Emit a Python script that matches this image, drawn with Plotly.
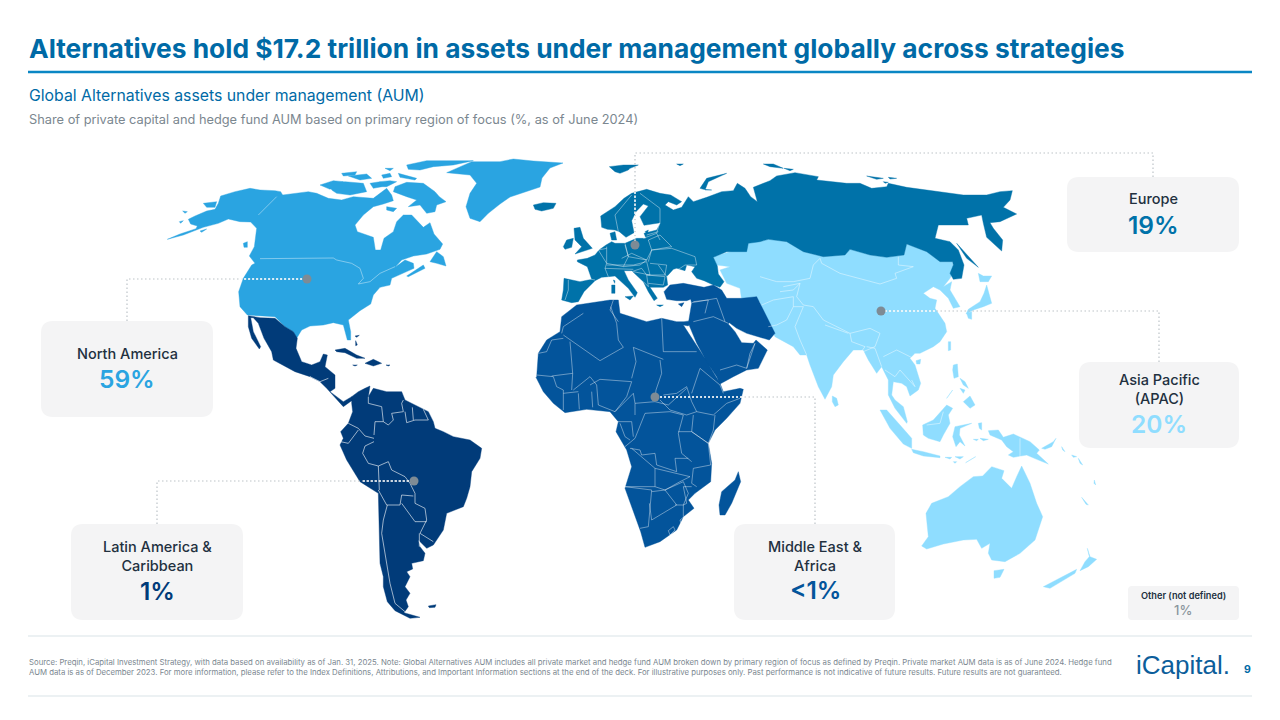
import plotly.graph_objects as go

# ---- callout data ----
REGION_NAMES = ["North America", "Latin America &<br>Caribbean", "Middle East &<br>Africa", "Asia Pacific<br>(APAC)", "Europe"]
SHARE_LABELS = ["59%", "1%", "<1%", "20%", "19%"]
REGION_COLORS = ["#2AA4E1", "#013B79", "#03549B", "#8FDDFF", "#0072A9"]
OTHER_NAME, OTHER_SHARE = "Other (not defined)", "1%"

TITLE = "Alternatives hold $17.2 trillion in assets under management globally across strategies"
SUBTITLE = "Global Alternatives assets under management (AUM)"
SUBTITLE2 = "Share of private capital and hedge fund AUM based on primary region of focus (%, as of June 2024)"
FOOT1 = "Source: Preqin, iCapital Investment Strategy, with data based on availability as of Jan. 31, 2025. Note: Global Alternatives AUM includes all private market and hedge fund AUM broken down by primary region of focus as defined by Preqin. Private market AUM data is as of June 2024. Hedge fund"
FOOT2 = "AUM data is as of December 2023. For more information, please refer to the Index Definitions, Attributions, and Important Information sections at the end of the deck. For illustrative purposes only. Past performance is not indicative of future results. Future results are not guaranteed."

# ---- map outlines, in 1/3 px units relative to a sheet origin ----
O1, O2, O3, O4, O5, O6 = (160, 150), (500, 150), (760, 150), (300, 370), (520, 290), (800, 340)

NA_LAND = [
 [(22,268),(60,252),(108,236),(112,228),(92,222),(85,208),(105,198),(140,183),(165,178),(175,160),(182,138),(225,125),(270,115),(300,120),(345,122),(362,125),(368,135),(405,130),(445,125),(470,130),(505,145),(545,150),(580,140),(640,145),(665,125),(680,115),(695,135),(700,152),(670,162),(640,170),(610,195),(585,225),(592,245),(640,262),(646,300),(662,300),(672,265),(700,245),(710,215),(730,195),(755,195),(775,215),(790,232),(810,218),(822,252),(848,282),(840,298),(800,312),(760,318),(725,330),(705,352),(735,330),(760,340),(762,355),(740,365),(715,375),(695,385),(690,405),(660,412),(640,435),(632,462),(600,482),(565,510),(572,545),(572,570),(562,570),(550,525),(520,518),(490,525),(450,528),(425,540),(410,565),(400,545),(375,530),(345,500),(262,495),(240,470),(236,425),(250,385),(275,345),(285,340),(268,318),(283,290),(290,235),(272,216),(240,215),(205,207),(175,220),(130,232),(70,255)],
 [(705,110),(740,97),(790,100),(825,125),(838,140),(858,155),(830,165),(825,185),(800,190),(780,165),(745,170),(770,150),(740,140),(700,125)],
 [(510,100),(555,95),(610,100),(620,125),(570,135),(530,130),(515,120)],
 [(480,105),(520,92),(550,95),(510,118)],
 [(680,170),(710,175),(700,185),(680,180)],
 [(740,45),(800,32),(860,32),(940,32),(880,45),(820,50),(780,60),(745,58)],
 [(660,95),(690,92),(710,95),(680,110),(650,110)],
 [(630,100),(660,95),(665,110),(640,115)],
 [(545,70),(590,65),(585,75),(550,78)],
 [(565,78),(620,72),(635,85),(600,90)],
 [(665,75),(690,70),(695,80),(670,85)],
 [(715,70),(770,85),(765,90),(720,82)],
 [(675,55),(700,55),(690,62)],
 [(810,335),(830,305),(850,320),(858,348),(830,340)],
 [(250,280),(262,275),(262,292),(252,292)],
 [(130,160),(170,155),(165,172),(140,172)],
 [(68,183),(82,185),(75,190)],
 [(58,215),(70,212),(62,220)],
 [(120,243),(140,237),(125,247)],
 [(740,378),(790,345),(795,355),(745,380)],
 [(860,68),(935,35),(1020,35),(1060,27),(1120,33),(1209,39),(1170,54),(1146,84),(1140,111),(1095,126),(1050,141),(1020,162),(985,190),(960,215),(930,205),(918,170),(930,130),(950,100),(930,75)],
]
NA_BORDERS = [
 [(300,326),(520,324),(530,330),(575,340),(600,355),(610,385),(595,402),(630,395),(660,370),(705,350)],
 [(295,195),(350,140)],
]

LATAM_LAND_O1 = [
 [(265,497),(300,503),(345,505),(362,520),(375,530),(400,545),(412,565),(408,595),(425,635),(455,645),(480,635),(490,612),(502,615),(495,650),(525,675),(525,715),(510,725),(550,755),(575,740),(575,752),(550,770),(500,715),(480,695),(450,680),(405,665),(340,630),(335,605),(312,565),(295,520),(280,503),(272,503),(280,545),(302,590),(298,597),(275,565),(265,530)],
 [(525,600),(555,595),(590,615),(615,625),(590,625),(555,608),(530,605)],
 [(615,640),(640,628),(665,640),(640,648)],
 [(578,645),(592,645),(585,648)],
 [(678,645),(690,645),(685,648)],
 [(585,558),(598,556),(590,562)],
 [(587,572),(592,585),(587,587)],
]
LATAM_LAND_O4 = [
 [(155,80),(175,65),(195,55),(210,48),(205,80),(220,55),(260,65),(305,65),(315,90),(345,105),(385,125),(400,155),(405,175),(430,185),(460,200),(510,210),(545,235),(540,265),(515,305),(510,350),(500,385),(490,410),(440,430),(430,480),(400,525),(380,535),(355,510),(360,530),(375,550),(370,572),(335,580),(338,597),(320,605),(330,620),(315,650),(330,670),(318,690),(325,710),(312,728),(360,742),(330,745),(285,722),(262,695),(250,650),(250,620),(240,580),(238,510),(238,440),(235,370),(180,335),(140,270),(120,225),(130,205),(122,185),(145,160),(158,125),(155,100)],
 [(385,708),(408,704),(405,712),(388,713)],
]
LATAM_BORDERS = [
 [(205,80),(205,100),(245,110),(250,155),(265,165),(280,150),(275,130),(310,125),(305,100),(310,90)],
 [(315,125),(320,158),(345,150),(385,150),(370,118)],
 [(337,112),(340,150)],
 [(250,155),(225,155),(222,195)],
 [(145,160),(175,175),(195,198),(222,205)],
 [(122,215),(145,220),(175,180)],
 [(222,215),(195,228),(188,250),(205,280),(235,288),(265,275),(275,300),(315,320),(330,340),(345,370),(345,400),(375,415),(380,450),(360,490),(400,515)],
 [(235,288),(238,360)],
 [(235,360),(260,405)],
 [(260,405),(300,405),(305,375),(340,378)],
 [(305,400),(345,455),(380,455)],
 [(262,405),(250,450),(245,490),(260,580),(270,640),(285,700),(315,725)],
 [(358,490),(358,530)],
 [(10,40),(30,20),(60,35)],
 [(60,35),(85,25)],
]

MEA_LAND = [
 [(50,260),(55,190),(80,150),(120,125),(125,80),(170,45),(270,30),(295,30),(300,70),(380,95),(425,85),(470,95),(492,95),(512,92),(505,108),(490,105),(545,190),(600,280),(610,305),(660,295),(670,298),(660,340),(620,385),(585,420),(565,460),(575,520),(572,575),(525,610),(505,630),(522,655),(490,680),(470,720),(420,755),(375,772),(362,725),(345,680),(315,595),(335,530),(320,480),(288,425),(295,395),(270,365),(200,358),(135,368),(100,340),(70,305),(48,262)],
 [(432,5),(450,-15),(490,-20),(552,-8),(580,-15),(605,0),(620,25),(665,25),(710,20),(725,50),(740,85),(765,130),(748,150),(715,140),(680,130),(650,115),(628,98),(625,102),(645,125),(665,158),(700,160),(708,150),(742,180),(715,235),(680,240),(640,260),(600,282),(590,260),(560,215),(530,160),(510,115),(505,100),(515,40),(512,28),(500,32),(470,32),(440,28)],
 [(655,545),(662,575),(635,640),(615,675),(600,675),(597,645),(605,605),(645,570)],
 [(475,42),(492,38),(485,50)],
]
MEA_BORDERS = [
 [(190,70),(130,110),(125,130)],[(130,135),(240,212)],[(272,50),(290,100),(295,150),(310,172)],
 [(240,212),(310,172)],[(280,30),(270,60),(295,95)],[(425,85),(430,185)],[(340,172),(430,208)],
 [(430,185),(530,185)],[(420,210),(425,250),(408,300),(405,325)],[(340,172),(348,215),(335,265)],
 [(210,285),(240,268),(335,275)],[(150,155),(158,250),(95,258)],[(158,250),(155,300)],
 [(55,190),(80,185),(95,150),(130,145)],[(230,285),(235,345),(285,365)],[(335,275),(320,320),(285,365)],
 [(175,310),(178,358)],[(215,305),(218,352)],[(160,300),(210,260),(230,285)],
 [(50,255),(100,260),(110,290),(130,300),(130,360)],[(130,310),(175,305)],
 [(285,365),(340,310),(345,340),(345,375)],[(345,340),(405,335),(445,345),(500,295)],
 [(430,315),(470,310),(500,290),(515,335),(530,365),(500,375),(450,360),(420,330)],
 [(515,310),(540,235),(600,285),(610,310)],[(660,325),(620,340),(580,375),(530,365)],
 [(585,375),(580,420),(565,460),(515,425)],[(520,375),(515,425)],
 [(375,370),(345,445),(315,470)],[(375,370),(450,365),(490,375),(475,430),(485,490),(515,515)],
 [(330,475),(360,480),(365,495),(405,490),(410,525),(470,545),(465,505),(505,505)],
 [(290,395),(335,395),(340,440)],[(300,400),(315,440),(330,450)],
 [(475,425),(515,425),(565,460),(572,525),(520,535)],[(335,475),(405,535),(405,590),(315,590)],
 [(405,535),(470,550),(510,560),(480,575),(435,600),(405,590)],[(520,535),(515,580),(530,590)],
 [(515,590),(490,590),(500,640),(490,645),(490,680)],[(315,590),(395,600),(385,710),(360,715)],
 [(395,605),(435,600),(470,645),(430,670),(395,690),(388,640)],[(435,600),(490,575),(505,610),(490,645),(465,645)],
 [(445,722),(460,710),(465,720),(450,735),(445,722)],[(480,690),(490,682),(492,695),(482,698),(480,690)],
 [(520,95),(580,80),(625,100)],[(520,35),(565,30),(555,70)],[(590,25),(615,95)],[(515,38),(590,25)],
 [(600,240),(650,225),(680,235),(705,160)],[(680,235),(690,190),(705,160)],
]

EU_WEST = [(232,330),(262,325),(285,315),(297,300),(318,285),(335,275),(345,280),(375,280),(410,265),(438,265),(432,250),(470,240),(482,218),(432,226),(420,200),(445,168),(430,162),(408,185),(395,212),(402,248),(378,262),(358,245),(345,240),(322,238),(305,232),(302,198),(345,170),(372,145),(395,130),(440,118),(480,130),(512,135),(545,155),(530,165),(505,155),(495,165),(520,180),(545,172),(565,140),(580,155),(620,142),(665,125),(700,122),(712,100),(735,115),(752,140),(772,155),(760,112),(810,92)]
EU_EAST = [(50,78),(105,68),(175,80),(170,90),(260,100),(300,100),(335,115),(380,110),(385,100),(440,112),(540,125),(610,135),(680,135),(720,125),(757,122),(750,150),(730,172),(770,192),(720,215),(690,218),(700,235),(728,270),(725,303),(680,262),(670,220),(665,195),(620,205),(625,225),(570,225),(535,225),(525,265),(570,275),(595,300),(612,345),(605,385),(580,388),(570,370),(580,345),(578,335),(540,335),(500,305),(440,282),(432,315),(380,322),(330,315),(270,298),(255,315),(190,320),(130,305),(80,275),(25,268),(0,275)]
EU_SOUTH = [(745,280),(740,305),(680,305),(640,322),(652,348),(655,372),(672,395),(660,412),(640,405),(612,392),(590,385),(575,365),(585,350),(560,345),(555,362),(530,355),(520,358),(500,380),(503,405),(490,412),(450,412),(472,445),(462,452),(445,425),(430,395),(395,362),(372,362),(385,390),(412,428),(405,442),(385,415),(345,378),(325,380),(305,382),(285,392),(252,425),(235,455),(215,458),(185,450),(190,420),(192,385),(240,395),(275,388),(262,350),(232,335)]
EU_ISLANDS_O2 = [
 [(222,235),(240,232),(250,265),(277,295),(225,312),(245,290),(225,270)],
 [(190,290),(200,270),(220,265),(215,292),(195,298)],
 [(100,165),(130,158),(168,160),(160,175),(125,183),(105,178)],
 [(328,50),(370,45),(415,45),(390,55),(385,60),(360,70),(345,65)],
 [(600,115),(620,85),(680,70),(625,95),(615,120),(635,120),(610,118)],
 [(790,42),(820,42),(850,55),(810,50)],[(852,55),(880,58),(870,62)],
 [(375,440),(400,438),(390,450)],[(335,405),(345,405),(345,430),(335,430)],[(340,390),(345,392),(344,400)],
 [(330,250),(345,245),(350,270),(335,270)],[(470,465),(490,465),(480,470)],[(435,245),(445,240),(442,252)],
 [(530,42),(550,42),(540,47)],
]
EU_ISLANDS_O3 = [
 [(320,78),(370,85),(350,88)],[(385,82),(410,85),(390,87)],[(370,95),(385,97),(375,100)],
 [(590,280),(655,352),(620,325)],
]
EU_BORDERS = [
 [(205,390),(205,420),(195,450)],[(232,380),(285,390)],[(295,300),(320,340),(315,355),(325,380)],
 [(320,290),(320,340),(370,350),(385,320),(375,280)],[(375,285),(385,320),(440,330),(455,300),(445,270)],
 [(365,325),(395,310),(440,330),(420,345),(370,350)],[(320,345),(400,345),(440,335),(450,375),(400,365)],
 [(315,355),(400,358)],[(445,335),(455,300),(515,295),(585,320),(590,345),(555,345),(540,355),(500,380),(475,345)],
 [(445,270),(480,255),(515,290),(455,300)],[(430,265),(470,250),(480,270)],[(440,255),(475,245)],
 [(450,340),(500,345),(495,375),(440,375)],[(440,375),(495,380),(490,405),(445,400)],
 [(395,365),(425,355),(440,375),(445,410),(430,395)],[(420,130),(480,175),(480,215)],
 [(345,195),(355,245)],[(345,195),(395,135)],[(480,215),(470,250)],[(295,300),(320,295)],
]

APAC_LAND_O3 = [
 [(-140,320),(-90,305),(-40,280),(-35,265),(0,275),(25,268),(80,275),(130,305),(190,320),(255,315),(270,298),(330,315),(380,322),(432,315),(440,282),(500,305),(540,335),(578,335),(580,365),(570,385),(550,410),(575,395),(570,420),(600,470),(580,475),(565,445),(540,420),(520,410),(490,430),(510,445),(530,450),(525,475),(555,520),(560,545),(540,575),(520,590),(480,610),(465,610),(450,625),(465,645),(482,700),(475,720),(450,738),(440,710),(425,700),(400,695),(395,735),(405,750),(430,770),(442,815),(440,820),(405,775),(385,735),(385,690),(365,650),(350,670),(325,630),(310,600),(280,600),(250,635),(220,675),(215,710),(195,748),(175,710),(150,645),(140,615),(120,615),(100,590),(45,560),(25,520),(5,490),(0,455),(-55,450),(-60,415),(-100,400),(-120,360),(-90,350),(-130,345)],
 [(680,405),(695,460),(670,470),(640,480),(618,492),(625,478),(660,455),(672,430)],
 [(620,490),(635,485),(635,508),(625,505)],
 [(655,370),(670,378),(695,378),(685,395),(660,395)],
]
APAC_LAND_O6 = [
 [(97,168),(110,175),(115,195),(105,200),(97,185)],
 [(348,62),(362,58),(360,72),(350,72)],
 [(445,5),(452,5),(452,30),(445,32)],
 [(240,210),(260,210),(300,255),(335,295),(335,325),(310,312),(270,265)],
 [(335,328),(370,335),(420,348),(420,353),(370,348),(340,338)],
 [(368,255),(400,240),(440,195),(458,205),(445,225),(450,250),(430,285),(420,305),(385,295),(370,285)],
 [(465,260),(515,250),(480,265),(478,285),(495,318),(480,305),(468,320),(458,290)],
 [(565,272),(595,270),(610,292),(640,282),(690,305),(718,330),(710,340),(745,372),(710,358),(680,345),(640,352),(625,345),(640,335),(620,320),(605,300),(570,285)],
 [(460,75),(472,72),(475,110),(462,115),(458,90)],
 [(490,185),(510,168),(525,195),(510,205)],
 [(480,115),(495,125),(505,145),(490,135)],
 [(480,145),(495,150),(490,160)],
 [(440,175),(458,150),(445,170)],
 [(435,352),(455,352),(450,357)],[(465,350),(490,350),(480,357)],[(497,368),(527,350),(505,365)],[(460,365),(470,365),(465,370)],
 [(520,298),(535,298),(530,302)],[(540,295),(565,298),(550,302)],[(535,250),(545,248),(545,270),(538,265)],
 [(378,520),(395,490),(445,470),(480,440),(520,410),(548,408),(575,380),(612,392),(605,415),(635,445),(650,410),(665,378),(690,430),(710,490),(728,530),(705,600),(660,640),(615,665),(575,660),(565,640),(570,610),(545,625),(530,598),(490,600),(430,612),(380,627),(365,618),(385,590)],
 [(582,692),(612,688),(600,712),(582,715)],
 [(730,740),(830,688),(825,700),(750,745)],
 [(862,625),(870,650),(890,658),(865,680),(840,692),(855,665),(868,650)],
 [(845,472),(865,495),(858,493)],
 [(725,325),(760,305),(768,295),(755,320),(735,328)],
 [(785,320),(795,335),(788,330)],[(815,345),(830,350),(820,352)],[(835,355),(848,375),(840,370)],
 [(883,420),(887,435),(882,430)],
]
APAC_BORDERS_O3 = [
 [(180,325),(185,340),(240,370),(300,385),(360,402),(410,385),(405,370),(460,350),(415,345),(415,320)],
 [(0,380),(50,395),(100,395),(150,385),(160,345),(180,325)],
 [(70,410),(120,400),(100,420),(60,425)],
 [(120,400),(110,440),(130,465),(160,470),(190,510),(270,550),(330,535),(360,550),(345,590),(310,605)],
 [(5,465),(40,450),(100,440),(100,470),(80,510),(50,525),(25,530)],
 [(100,470),(130,470),(105,530),(120,570),(140,615)],
 [(195,525),(265,550)],[(320,590),(345,595),(365,650)],
 [(270,550),(275,575),(315,590),(300,610)],
]
APAC_BORDERS_O6 = [
 [(250,50),(290,30),(340,55)],[(255,90),(285,110),(300,90),(345,140),(335,120)],
 [(380,255),(420,250),(430,215)],[(660,295),(660,352)],
]

# ---- layout guides, in page pixels ----
PANELS = [(41,321,213,417,12),(71,524,243,620,12),(734,524,895,620,12),(1079,362,1239,448,12),(1067,177,1239,252,12),(1128,586,1239,620,4)]
LEADERS = [
 [(127,321),(127,279),(307,279)],
 [(157,524),(157,481),(414,481)],
 [(815,524),(815,397),(655,397)],
 [(1159,362),(1159,311),(881,311)],
 [(1153,177),(1153,153),(635,153),(635,245)],
]
LEADERS_ON_LAND = [
 [(240,279),(307,279)],[(363,481),(414,481)],[(742,397),(655,397)],[(935,311),(881,311)],[(635,192),(635,245)],
]
DOTS_X, DOTS_Y = [307,414,655,881,635], [279,481,397,311,245]
LABEL_POS = [(127,353,379),(157,556,591),(815,556,590),(1159,389,424),(1153,198,225)]


def place(origin, shapes):
    return [[(origin[0] + x / 3, origin[1] + y / 3) for x, y in s] for s in shapes]


def flatten(shapes, closed=False):
    xs, ys = [], []
    for s in shapes:
        pts = list(s) + ([s[0]] if closed else [])
        xs += [p[0] for p in pts] + [None]
        ys += [p[1] for p in pts] + [None]
    return xs, ys


FONT = "Inter"
DARK = "#22303F"
fig = go.Figure()


def land(shapes, color):
    x, y = flatten(shapes, True)
    fig.add_trace(go.Scatter(x=x, y=y, mode="lines", fill="toself", fillcolor=color,
                             line=dict(color=color, width=0.4), hoverinfo="skip"))


def borders(shapes, color="rgba(255,255,255,0.5)", width=0.8):
    x, y = flatten(shapes)
    fig.add_trace(go.Scatter(x=x, y=y, mode="lines", line=dict(color=color, width=width), hoverinfo="skip"))


na_c, lat_c, mea_c, apac_c, eu_c = REGION_COLORS
land(place(O3, APAC_LAND_O3) + place(O6, APAC_LAND_O6), apac_c)
eu_main = place(O2, [EU_WEST])[0] + place(O3, [EU_EAST])[0] + place(O2, [EU_SOUTH])[0]
land([eu_main] + place(O2, EU_ISLANDS_O2) + place(O3, EU_ISLANDS_O3), eu_c)
land(place(O5, MEA_LAND), mea_c)
land(place(O1, NA_LAND), na_c)
land(place(O1, LATAM_LAND_O1) + place(O4, LATAM_LAND_O4), lat_c)
borders(place(O3, APAC_BORDERS_O3) + place(O6, APAC_BORDERS_O6), "rgba(255,255,255,0.55)")
borders(place(O2, EU_BORDERS))
borders(place(O5, MEA_BORDERS))
borders(place(O1, NA_BORDERS))
borders(place(O4, LATAM_BORDERS), "rgba(255,255,255,0.6)", 1)

x, y = flatten(LEADERS)
fig.add_trace(go.Scatter(x=x, y=y, mode="lines", line=dict(color="#BDC3C8", width=1.2, dash="1.5px,2.5px"), hoverinfo="skip"))
x, y = flatten(LEADERS_ON_LAND)
fig.add_trace(go.Scatter(x=x, y=y, mode="lines", line=dict(color="#FFFFFF", width=1.5, dash="2px,2px"), hoverinfo="skip"))
fig.add_trace(go.Scatter(x=DOTS_X, y=DOTS_Y, mode="markers", marker=dict(color="#7E8B95", size=9), hoverinfo="skip"))

shapes = []
for x0, y0, x1, y1, r in PANELS:
    path = (f"M{x0+r},{y0} L{x1-r},{y0} Q{x1},{y0} {x1},{y0+r} L{x1},{y1-r} Q{x1},{y1} {x1-r},{y1} "
            f"L{x0+r},{y1} Q{x0},{y1} {x0},{y1-r} L{x0},{y0+r} Q{x0},{y0} {x0+r},{y0} Z")
    shapes.append(dict(type="path", path=path, fillcolor="#F4F4F5", line=dict(width=0), xref="x", yref="y", layer="below"))
shapes.append(dict(type="line", x0=28, x1=1252, y0=72, y1=72, xref="x", yref="y", line=dict(color="#0A86C4", width=2.5)))
shapes.append(dict(type="line", x0=28, x1=1252, y0=636, y1=636, xref="x", yref="y", line=dict(color="#D9E3E8", width=1.2)))
shapes.append(dict(type="line", x0=28, x1=1252, y0=696, y1=696, xref="x", yref="y", line=dict(color="#D9E3E8", width=1.2)))


def text(x, y, s, size, color, anchor="center", weight=400, family=FONT):
    if anchor == "left":
        x -= 2
    fig.add_annotation(x=x, y=y, text=s, xref="x", yref="y", showarrow=False, xanchor=anchor, yanchor="middle",
                       font=dict(family=family, size=size, color=color, weight=weight), align=anchor)


text(29, 48, TITLE, 26.35, "#006AA6", "left", 700)
text(29, 95, SUBTITLE, 15.8, "#006AA6", "left", 400)
text(29, 119, SUBTITLE2, 12.8, "#7B8790", "left", 400)
for name, share, col, (cx, ny, sy) in zip(REGION_NAMES, SHARE_LABELS, REGION_COLORS, LABEL_POS):
    text(cx, ny, name, 14.5, DARK, "center", 500)
    text(cx, sy, share.replace("<", "&lt;"), 24.5, col, "center", 600)
text(1183, 595, OTHER_NAME, 9.2, DARK, "center", 600)
text(1183, 610, OTHER_SHARE, 13, "#8A949C", "center", 500)
text(29, 662, FOOT1, 7.78, "#7B8790", "left")
text(29, 671.5, FOOT2, 7.78, "#7B8790", "left")
text(1136, 665, "iCapital.", 26, "#0C5E9B", "left", 400, "Liberation Sans")
text(1247, 669, "9", 10.5, "#006AA6", "center", 700)

fig.update_layout(width=1280, height=720, margin=dict(l=0, r=0, t=0, b=0), showlegend=False, hovermode=False,
                  paper_bgcolor="white", plot_bgcolor="white", shapes=shapes,
                  xaxis=dict(range=[0, 1280], visible=False, fixedrange=True),
                  yaxis=dict(range=[720, 0], visible=False, fixedrange=True))
fig.write_html("out.html", config={"displayModeBar": False},
               post_script="document.body.style.margin='0';document.documentElement.style.overflow='hidden';")
